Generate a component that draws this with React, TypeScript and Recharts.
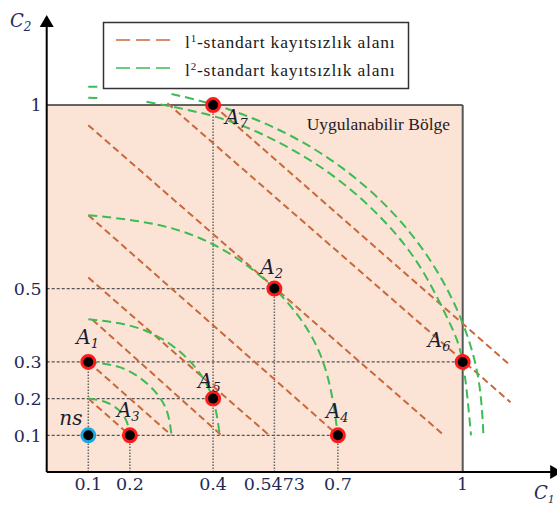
import React from 'react'
import {
    ComposedChart, Line, Scatter, XAxis, YAxis, ReferenceArea, ReferenceLine, ReferenceDot
} from 'recharts';

// tick values on both axes
const xTicks = [0.1, 0.2, 0.4, 0.5473, 0.7, 1];
const yTicks = [0.1, 0.2, 0.3, 0.5, 1];

// alternatives + the reference point ns
const pointNames = ['ns', 'A1', 'A2', 'A3', 'A4', 'A5', 'A6', 'A7'];
const pointC1 = [0.1, 0.1, 0.5473, 0.2, 0.7, 0.4, 1, 0.4];
const pointC2 = [0.1, 0.3, 0.5, 0.1, 0.1, 0.2, 0.3, 1];

// l1 indifference lines (end points)
const orangeLines = [
    [[0.1, 0.2], [0.2, 0.1]],
    [[0.1, 0.3], [0.3, 0.1]],
    [[0.11, 0.415], [0.42, 0.1]],
    [[0.1, 0.53], [0.535, 0.1]],
    [[0.1, 0.7], [0.7, 0.1]],
    [[0.1, 0.945], [0.955, 0.1]],
    [[0.29, 1.005], [1.115, 0.19]],
    [[0.4, 1.0], [1.115, 0.29]],
];

// l2 indifference arcs
const arcR01 = [[0.1, 0.2], [0.138, 0.192], [0.171, 0.171], [0.192, 0.138], [0.2, 0.1]];
const arcR02 = [[0.1, 0.3], [0.177, 0.285], [0.241, 0.241], [0.285, 0.177], [0.3, 0.1]];
const arcR03 = [[0.1, 0.416], [0.221, 0.392], [0.324, 0.324], [0.392, 0.221], [0.416, 0.1]];
const arcR06 = [[0.1, 0.7], [0.33, 0.654], [0.524, 0.524], [0.654, 0.33], [0.7, 0.1]];
const arcA6Stub = [[0.1, 1.02], [0.122, 1.019]];
const arcA6 = [[0.24, 1.009], [0.415, 0.965], [0.56, 0.897], [0.691, 0.805], [0.805, 0.691], [0.897, 0.56], [0.965, 0.415], [1.0, 0.3], [1.02, 0.1]];
const arcA7Stub = [[0.1, 1.05], [0.122, 1.05]];
const arcA7 = [[0.3, 1.03], [0.425, 0.993], [0.575, 0.923], [0.711, 0.828], [0.828, 0.711], [0.923, 0.575], [0.993, 0.425], [1.036, 0.265], [1.05, 0.1]];
const greenArcs = [arcR01, arcR02, arcR03, arcR06, arcA6Stub, arcA6, arcA7Stub, arcA7];

// dotted guide lines
const guideH = [[0.5, 0, 0.5473], [0.3, 0, 1], [0.2, 0, 0.4], [0.1, 0, 0.7]];
const guideV = [[0.1, 0, 0.3], [0.2, 0, 0.1], [0.4, 0, 1], [0.5473, 0, 0.5], [0.7, 0, 0.1]];

const ORANGE = '#c9683b';
const GREEN = '#3dbb55';
const INK = '#1f2a55';

const labelPos: Record<string, { dx: number, dy: number }> = {
    ns: { dx: -29, dy: -10 },
    A1: { dx: -12, dy: -18 },
    A2: { dx: -14, dy: -15 },
    A3: { dx: -13, dy: -18 },
    A4: { dx: -12, dy: -17 },
    A5: { dx: -15, dy: -11 },
    A6: { dx: -35, dy: -15 },
    A7: { dx: 12, dy: 19 },
};

const toXY = (pts: number[][]) => pts.map(([x, y]) => ({ x, y }));

const points = pointNames.map((name, i) => ({ name, x: pointC1[i], y: pointC2[i] }));

function PointShape(props: any) {
    const { cx, cy, payload } = props;
    const name: string = payload.name;
    const pos = labelPos[name];
    const isNs = name === 'ns';
    return (
        <g>
            <circle cx={cx} cy={cy} r={6.5} fill="#000" stroke={isNs ? '#19a8e6' : '#ff1a1a'} strokeWidth={3} />
            <text x={cx + pos.dx} y={cy + pos.dy} fontFamily="DejaVu Serif" fontStyle="italic" fontSize={20} fill="#1c1c30">
                {isNs ? 'ns' : 'A'}
                {!isNs && <tspan dy={4} fontSize={13}>{name.slice(1)}</tspan>}
            </text>
        </g>
    );
}

const upArrow = (p: any) => (
    <polygon points={`${p.cx},${p.cy - 2} ${p.cx - 7},${p.cy + 10} ${p.cx + 7},${p.cy + 10}`} fill="#000" />
);
const rightArrow = (p: any) => (
    <polygon points={`${p.cx + 8},${p.cy} ${p.cx - 4},${p.cy - 7} ${p.cx - 4},${p.cy + 7}`} fill="#000" />
);

function Graph() {
    return (
        <div style={{ position: 'absolute', left: 0, top: 0, width: 557, height: 505, background: '#fff' }}>
            <ComposedChart width={557} height={505} margin={{ top: 17, right: 2.8, bottom: 3, left: 6.7 }}>
                <XAxis type="number" dataKey="x" domain={[0, 1.22]} ticks={xTicks} interval={0}
                    allowDataOverflow tickLine={false} tickSize={4} tickMargin={2} height={30}
                    axisLine={{ stroke: '#000', strokeWidth: 2 }}
                    tick={{ fill: INK, fontSize: 17.5, fontFamily: 'DejaVu Serif' }} />
                <YAxis type="number" dataKey="y" domain={[0, 1.24]} ticks={yTicks} interval={0}
                    allowDataOverflow tickLine={false} tickSize={3} tickMargin={2} width={40}
                    axisLine={{ stroke: '#000', strokeWidth: 2 }}
                    tick={{ fill: INK, fontSize: 17.5, fontFamily: 'DejaVu Serif' }} />
                <ReferenceArea x1={0} x2={1} y1={0} y2={1} fill="#fbe4d6" fillOpacity={1} stroke="none"
                    label={{ value: 'Uygulanabilir Bölge', position: 'insideTopRight', offset: 12.6, fill: '#2a1a24', fontSize: 17.5, fontFamily: 'Liberation Serif' }} />
                <ReferenceLine segment={[{ x: 0, y: 1 }, { x: 1, y: 1 }]} stroke="#333" strokeWidth={1.5} />
                <ReferenceLine segment={[{ x: 1, y: 0 }, { x: 1, y: 1 }]} stroke="#555" strokeWidth={2} />
                {guideH.map(([y, x1, x2], i) => (
                    <ReferenceLine key={'h' + i} segment={[{ x: x1, y }, { x: x2, y }]} stroke="#555" strokeWidth={1.2} strokeDasharray="3 2" />
                ))}
                {guideV.map(([x, y1, y2], i) => (
                    <ReferenceLine key={'v' + i} segment={[{ x, y: y1 }, { x, y: y2 }]} stroke="#666" strokeWidth={1.5} strokeDasharray="1.5 1.5" />
                ))}
                {orangeLines.map((seg, i) => (
                    <Line key={'o' + i} data={toXY(seg)} dataKey="y" type="linear" stroke={ORANGE} strokeWidth={2}
                        strokeDasharray="7 4" dot={false} activeDot={false} isAnimationActive={false} legendType="none" />
                ))}
                {greenArcs.map((arc, i) => (
                    <Line key={'g' + i} data={toXY(arc)} dataKey="y" type="natural" stroke={GREEN} strokeWidth={2}
                        strokeDasharray="9 5" dot={false} activeDot={false} isAnimationActive={false} legendType="none" />
                ))}
                <Scatter data={points} dataKey="y" shape={PointShape} isAnimationActive={false} legendType="none" />
                <ReferenceDot x={0} y={1.24} ifOverflow="visible" shape={upArrow} />
                <ReferenceDot x={1.22} y={0} ifOverflow="visible" shape={rightArrow} />
            </ComposedChart>
            <svg width={557} height={505} style={{ position: 'absolute', left: 0, top: 0, pointerEvents: 'none' }}>
                <rect x={103.5} y={22.5} width={305} height={66} fill="#fff" stroke="#333" strokeWidth={1.5} />
                <line x1={116} y1={40} x2={170} y2={40} stroke={ORANGE} strokeWidth={1.5} strokeDasharray="14 6" />
                <line x1={116} y1={68} x2={170} y2={68} stroke={GREEN} strokeWidth={1.5} strokeDasharray="14 6" />
                <text x={185} y={48} fontFamily="Liberation Serif" fontSize={17.5} letterSpacing={0.8} fill="#1a1a1a">
                    l<tspan dy={-6} fontSize={11}>1</tspan><tspan dy={6}>-standart kayıtsızlık alanı</tspan>
                </text>
                <text x={185} y={76} fontFamily="Liberation Serif" fontSize={17.5} letterSpacing={0.8} fill="#1a1a1a">
                    l<tspan dy={-6} fontSize={11}>2</tspan><tspan dy={6}>-standart kayıtsızlık alanı</tspan>
                </text>
                <text x={10} y={27} fontFamily="DejaVu Serif" fontStyle="italic" fontSize={18} fill={INK}>
                    C<tspan dy={4} fontSize={12}>2</tspan>
                </text>
                <text x={534} y={499} fontFamily="DejaVu Serif" fontStyle="italic" fontSize={18} fill={INK}>
                    C<tspan dy={4} fontSize={11}>1</tspan>
                </text>
            </svg>
        </div>
    )
}

export default Graph
